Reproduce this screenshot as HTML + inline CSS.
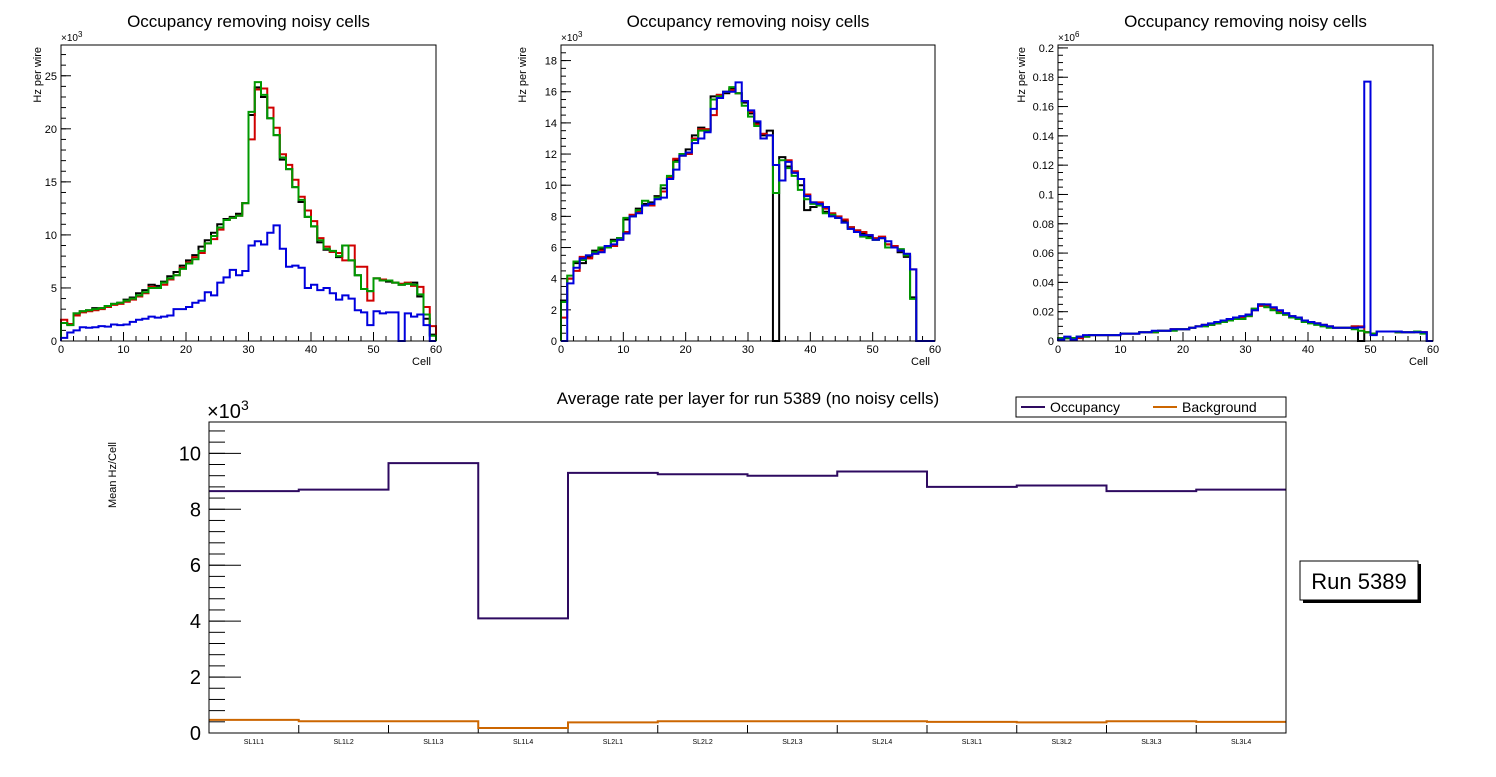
<!DOCTYPE html>
<html><head><meta charset="utf-8"><style>
body{margin:0;background:#fff;width:1496px;height:772px;overflow:hidden;font-family:"Liberation Sans",sans-serif}
svg text{font-family:"Liberation Sans",sans-serif}
</style></head><body>
<svg id="c" width="1496" height="772" viewBox="0 0 1496 772" xmlns="http://www.w3.org/2000/svg"></svg>
<script>
// ---- Panel 1 data (x10^3 Hz per wire) ----
const p1Black=[1.7,1.6,2.6,2.8,2.9,3.1,3.1,3.3,3.5,3.6,3.9,4.1,4.5,4.8,5.3,5.2,5.6,6.1,6.5,7.1,7.6,8.1,8.9,9.5,10.2,11.0,11.5,11.7,12.0,13.0,21.3,23.9,23.0,21.0,19.4,17.1,16.2,14.5,13.1,11.7,10.8,9.3,8.6,8.4,7.9,9.0,7.6,6.2,4.9,4.7,5.9,5.7,5.6,5.5,5.3,5.4,5.5,4.2,2.1,0.6];
const p1Red=[2.0,1.6,2.4,2.7,2.8,2.9,3.0,3.2,3.4,3.5,3.7,3.9,4.2,4.5,5.1,5.0,5.3,5.8,6.2,6.9,7.4,7.9,8.3,9.2,9.6,10.5,11.4,11.6,11.8,13.0,19.0,23.7,23.8,22.0,20.1,17.6,16.6,15.2,13.6,12.3,11.3,9.7,8.9,8.4,8.3,7.6,9.0,7.0,7.0,3.8,5.9,5.8,5.7,5.5,5.4,5.5,5.2,5.1,3.2,1.4];
const p1Green=[1.7,1.5,2.6,2.8,2.9,3.0,3.1,3.3,3.5,3.6,3.8,4.0,4.3,4.6,5.0,5.0,5.5,5.9,6.2,6.8,7.3,7.7,8.5,9.2,9.9,10.7,11.4,11.6,11.8,13.0,21.6,24.4,23.2,21.0,19.4,17.3,16.2,14.5,13.3,11.7,10.8,9.5,8.7,8.5,8.0,9.0,7.6,6.2,4.9,4.7,5.9,5.7,5.7,5.5,5.3,5.4,5.3,4.4,2.5,0.5];
const p1Blue=[0.3,0.8,1.0,1.3,1.25,1.3,1.4,1.35,1.55,1.5,1.55,1.8,2.0,2.1,2.3,2.2,2.3,2.4,3.0,3.0,3.2,3.6,3.8,4.6,4.3,5.5,6.0,6.7,6.2,6.6,9.0,9.4,9.1,10.2,10.9,8.7,7.0,7.1,6.9,5.0,5.3,4.8,5.0,4.5,3.9,4.3,4.0,2.9,2.7,1.5,2.8,2.6,2.7,2.7,0,2.6,2.3,2.5,1.5,0];
// ---- Panel 2 data (x10^3) ----
const p2Black=[2.6,4.0,5.0,5.0,5.4,5.8,5.9,6.0,6.5,6.6,7.8,8.0,8.5,8.8,8.9,9.3,9.8,10.5,11.6,11.9,12.3,13.2,13.7,13.5,15.7,15.8,15.9,16.2,15.9,15.3,14.6,14.0,13.2,13.5,0,11.8,11.2,10.8,10.0,8.4,8.6,8.8,8.3,8.1,7.9,7.7,7.3,7.1,6.9,6.7,6.5,6.6,6.2,6.1,5.7,5.4,2.8,0,0,0];
const p2Red=[1.5,4.0,4.5,5.4,5.3,5.6,5.8,6.0,6.1,6.5,7.0,8.1,8.3,8.7,8.7,9.2,9.6,10.5,11.7,11.9,12.0,13.0,13.6,13.6,14.5,15.8,16.0,16.1,15.9,15.4,14.7,13.9,13.3,13.2,11.3,10.3,11.6,10.9,10.4,9.4,8.9,8.9,8.5,8.2,8.0,7.8,7.3,7.1,7.0,6.8,6.6,6.7,6.2,6.1,5.8,5.5,4.6,0,0,0];
const p2Green=[2.5,4.2,5.1,5.2,5.5,5.7,6.0,6.0,6.4,6.6,7.9,8.0,8.4,9.0,8.8,9.2,10.0,10.6,11.5,12.0,12.1,12.9,13.5,13.5,15.5,15.7,16.0,16.3,15.9,15.1,14.4,13.8,13.0,13.2,9.5,11.6,11.1,10.6,9.7,9.1,8.8,8.7,8.2,8.1,7.9,7.6,7.2,7.0,6.7,6.6,6.5,6.6,6.0,6.0,5.9,5.5,2.7,0,0,0];
const p2Blue=[0,3.7,4.7,5.3,5.5,5.6,5.7,6.1,6.2,6.5,6.9,8.0,8.2,8.7,8.8,9.1,9.2,10.4,11.0,11.9,12.1,12.7,13.0,13.4,14.9,15.6,16.0,16.0,16.6,15.4,14.8,14.1,13.0,13.2,11.3,10.3,11.5,10.8,10.4,9.3,8.9,8.8,8.6,8.0,7.9,7.6,7.2,7.0,6.8,6.8,6.5,6.6,6.4,6.0,5.8,5.6,4.6,0,0,0];
// ---- Panel 3 data (x10^6) ----
const p3Black=[0.002,0.002,0.002,0.003,0.003,0.004,0.004,0.004,0.004,0.004,0.005,0.005,0.005,0.006,0.006,0.006,0.007,0.007,0.008,0.008,0.008,0.009,0.010,0.011,0.011,0.012,0.013,0.015,0.015,0.016,0.018,0.022,0.025,0.024,0.022,0.020,0.018,0.016,0.015,0.014,0.013,0.012,0.011,0.010,0.009,0.009,0.009,0.010,0,0.006,0.005,0.0065,0.0065,0.0065,0.006,0.006,0.006,0.0065,0.006,0];
const p3Red=[0.002,0.002,0.001,0.002,0.003,0.004,0.004,0.004,0.004,0.004,0.005,0.005,0.005,0.006,0.006,0.006,0.007,0.007,0.008,0.008,0.008,0.009,0.010,0.011,0.011,0.012,0.013,0.014,0.015,0.016,0.017,0.021,0.024,0.024,0.022,0.020,0.018,0.017,0.016,0.014,0.013,0.012,0.011,0.010,0.009,0.009,0.009,0.010,0.010,0.006,0.005,0.0065,0.0065,0.0065,0.006,0.006,0.006,0.006,0.006,0];
const p3Green=[0.002,0.002,0.002,0.003,0.003,0.004,0.004,0.004,0.004,0.004,0.005,0.005,0.005,0.006,0.006,0.006,0.007,0.007,0.007,0.008,0.008,0.009,0.010,0.010,0.011,0.012,0.013,0.014,0.015,0.015,0.017,0.022,0.025,0.023,0.021,0.019,0.018,0.016,0.015,0.013,0.012,0.011,0.010,0.009,0.009,0.009,0.009,0.008,0.007,0.006,0.005,0.0065,0.0065,0.0065,0.006,0.006,0.006,0.0065,0.005,0];
const p3Blue=[0.001,0.003,0.001,0.003,0.004,0.004,0.004,0.004,0.004,0.004,0.005,0.005,0.005,0.006,0.006,0.007,0.007,0.007,0.008,0.008,0.008,0.009,0.010,0.011,0.012,0.013,0.014,0.015,0.016,0.017,0.018,0.021,0.025,0.025,0.023,0.021,0.019,0.017,0.016,0.014,0.013,0.012,0.011,0.010,0.009,0.009,0.009,0.009,0.0093,0.177,0.004,0.0065,0.0065,0.0065,0.0065,0.006,0.006,0.006,0.006,0];
// ---- Bottom chart ----
const layers=["SL1L1","SL1L2","SL1L3","SL1L4","SL2L1","SL2L2","SL2L3","SL2L4","SL3L1","SL3L2","SL3L3","SL3L4"];
const occupancy=[8.65,8.7,9.65,4.1,9.3,9.25,9.2,9.35,8.8,8.85,8.65,8.7];
const background=[0.47,0.42,0.42,0.18,0.38,0.42,0.42,0.42,0.40,0.38,0.42,0.40];
const p1YTicks=[0,5,10,15,20,25];
const p2YTicks=[0,2,4,6,8,10,12,14,16,18];
const p3YTicks=[0,0.02,0.04,0.06,0.08,0.1,0.12,0.14,0.16,0.18,0.2];
const cellTicks=[0,10,20,30,40,50,60];
const bYTicks=[0,2,4,6,8,10];

const svg=document.getElementById('c');
const NS='http://www.w3.org/2000/svg';
function el(tag,attrs,parent){const e=document.createElementNS(NS,tag);for(const k in attrs)e.setAttribute(k,attrs[k]);(parent||svg).appendChild(e);return e;}
function txt(s,attrs,parent){const e=el('text',attrs,parent);e.textContent=s;return e;}

function histPath(vals,xs,ys,x0){
  let d='';const y0=ys(0);
  for(let i=0;i<vals.length;i++){
    const xa=xs(x0+i),xb=xs(x0+i+1),y=ys(vals[i]);
    if(i===0)d+='M'+xa+','+y0+'L'+xa+','+y;else d+='L'+xa+','+y;
    d+='L'+xb+','+y;
  }
  d+='L'+xs(x0+vals.length)+','+y0;
  return d;
}

function panel(opt){
  const g=el('g',{});
  
  
  const {L,R,T,B,ymax,minor,ticks}=opt;
  const xs=v=>L+(v/60)*(R-L);
  const ys=v=>B-(v/ymax)*(B-T);
  const t=txt('Occupancy removing noisy cells',{x:(L+R)/2,y:27,'text-anchor':'middle','font-size':17},g);
  
  for(let v=0;v<=ymax+1e-9;v+=minor){const y=ys(v);el('line',{x1:L,x2:L+5,y1:y,y2:y,stroke:'#000','stroke-width':1},g);}
  for(const v of ticks){const y=ys(v);el('line',{x1:L,x2:L+10,y1:y,y2:y,stroke:'#000','stroke-width':1},g);
    const lb=txt(opt.fmt(v),{x:L-4,y:y+4,'text-anchor':'end','font-size':11},g);
    }
  for(let v=0;v<=60;v+=2){const x=xs(v);el('line',{x1:x,x2:x,y1:B,y2:B-(v%10===0?9:5),stroke:'#000','stroke-width':1},g);}
  for(const v of cellTicks){const lb=txt(String(v),{x:xs(v),y:B+12,'text-anchor':'middle','font-size':11},g);
    }
  const ax=txt('Cell',{x:R-5,y:B+24,'text-anchor':'end','font-size':11},g);
  
  const ay=txt('Hz per wire',{x:0,y:0,'text-anchor':'end','font-size':11,transform:`translate(${L-opt.yt},${T+2}) rotate(-90)`},g);
  
  const ex=el('text',{x:L,y:T-4,'font-size':10},g);
  ex.innerHTML='×10<tspan dy="-4" font-size="8">'+opt.exp+'</tspan>';
  
  const cols={black:'#000',red:'#d00000',green:'#009900',blue:'#0000dd'};
  for(const s of opt.series){
    const p=el('path',{d:histPath(s[1],xs,ys,0),fill:'none',stroke:cols[s[0]],'stroke-width':2},g);
    
  }
  el('rect',{x:L,y:T,width:R-L,height:B-T,fill:'none',stroke:'#000','stroke-width':1},g);
}
panel({name:'panel-1',L:61,R:436,T:45,B:341,ymax:27.9,minor:1,ticks:p1YTicks,exp:'3',yt:20,fmt:v=>String(v),
  series:[['black',p1Black],['red',p1Red],['green',p1Green],['blue',p1Blue]]});
panel({name:'panel-2',L:561,R:935,T:45,B:341,ymax:19.0,minor:0.5,ticks:p2YTicks,exp:'3',yt:35,fmt:v=>String(v),
  series:[['black',p2Black],['red',p2Red],['green',p2Green],['blue',p2Blue]]});
panel({name:'panel-3',L:1058,R:1433,T:45,B:341,ymax:0.202,minor:0.005,ticks:p3YTicks,exp:'6',yt:33,fmt:v=>String(+v.toFixed(2)),
  series:[['black',p3Black],['red',p3Red],['green',p3Green],['blue',p3Blue]]});

(function(){
  const g=el('g',{});
  
  
  const L=209,R=1286,T=422,B=733,ymax=11.12;
  const n=layers.length;
  const xs=i=>L+i*(R-L)/n;
  const ys=v=>B-(v/ymax)*(B-T);
  const t=txt('Average rate per layer for run 5389 (no noisy cells)',{x:748,y:404,'text-anchor':'middle','font-size':17},g);
  
  for(let v=0;v<=ymax+1e-9;v+=0.4){const y=ys(v);el('line',{x1:L,x2:L+16,y1:y,y2:y,stroke:'#000','stroke-width':1},g);}
  for(const v of bYTicks){const y=ys(v);el('line',{x1:L,x2:L+32,y1:y,y2:y,stroke:'#000','stroke-width':1},g);
    const lb=txt(String(v),{x:L-8,y:y+7,'text-anchor':'end','font-size':20},g);
    }
  for(let i=0;i<=n;i++){el('line',{x1:xs(i),x2:xs(i),y1:B,y2:B-8,stroke:'#000','stroke-width':1},g);}
  layers.forEach((s,i)=>{const lb=txt(s,{x:(xs(i)+xs(i+1))/2,y:B+11,'text-anchor':'middle','font-size':7},g);
    });
  const ay=txt('Mean Hz/Cell',{x:0,y:0,'text-anchor':'end','font-size':11,transform:`translate(116,${T+20}) rotate(-90)`},g);
  
  const ex=el('text',{x:L-2,y:T-4,'font-size':20},g);
  ex.innerHTML='×10<tspan dy="-8" font-size="14">3</tspan>';
  
  function step(vals){let d='';vals.forEach((v,i)=>{d+=(i?'L':'M')+xs(i)+','+ys(v)+'L'+xs(i+1)+','+ys(v);});return d;}
  const po=el('path',{d:step(occupancy),fill:'none',stroke:'#2e0a60','stroke-width':2},g);
  
  const pb=el('path',{d:step(background),fill:'none',stroke:'#cc6600','stroke-width':2},g);
  
  el('rect',{x:L,y:T,width:R-L,height:B-T,fill:'none',stroke:'#000','stroke-width':1},g);
  const lg=el('g',{},g);
  
  el('rect',{x:1016,y:397,width:270,height:20,fill:'#fff',stroke:'#000','stroke-width':1},lg);
  el('line',{x1:1021,x2:1045,y1:407,y2:407,stroke:'#2e0a60','stroke-width':2},lg);
  const l1=txt('Occupancy',{x:1050,y:412,'font-size':14},lg);
  
  el('line',{x1:1153,x2:1177,y1:407,y2:407,stroke:'#cc6600','stroke-width':2},lg);
  const l2=txt('Background',{x:1182,y:412,'font-size':14},lg);
  
  const rb=el('g',{});
  
  el('rect',{x:1303,y:564,width:118,height:39,fill:'#000'},rb);
  el('rect',{x:1300,y:561,width:118,height:39,fill:'#fff',stroke:'#000','stroke-width':1},rb);
  txt('Run 5389',{x:1359,y:589,'text-anchor':'middle','font-size':22},rb);
})();
</script>
</body></html>
